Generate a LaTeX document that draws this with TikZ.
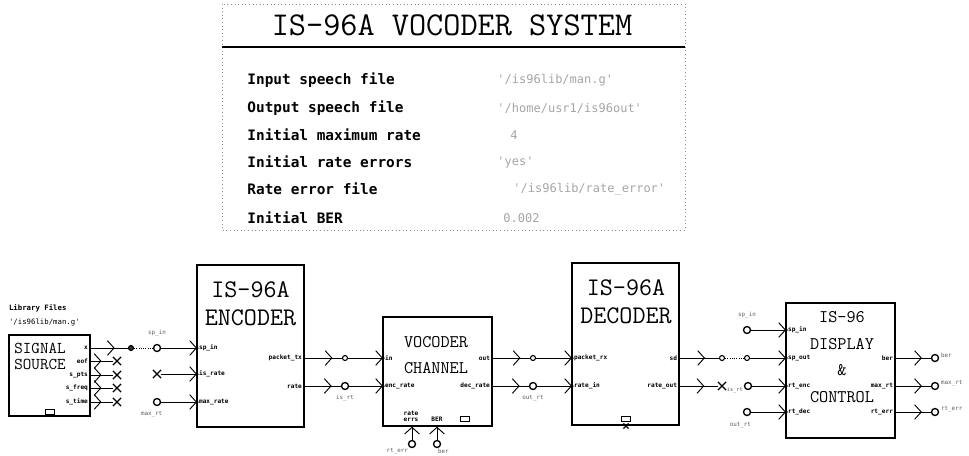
\documentclass[tikz,border=0pt]{standalone}
\usepackage{fontspec}
\newfontfamily\plotmono{DejaVu Sans Mono}
\usetikzlibrary{arrows.meta, positioning, decorations.markings, shapes.misc}
\newlength\px
\setlength\px{0.75pt}
\definecolor{valgray}{RGB}{165,165,165}
\definecolor{framegray}{RGB}{140,140,140}
\definecolor{labgray}{RGB}{90,90,90}

\begin{document}
\begin{tikzpicture}[x=0.75pt, y=-0.75pt, line width=0.7pt,
  block/.style={draw, line width=1pt, inner sep=0pt},
  blocktxt/.style={font=\ttfamily\fontsize{19}{21}\selectfont, align=center, inner sep=0pt},
  smalltxt/.style={font=\ttfamily\fontsize{13.3}{19.5}\selectfont, align=center, inner sep=0pt},
  parname/.style={font=\plotmono\bfseries\fontsize{10.8}{12}\selectfont, anchor=west, inner sep=0pt},
  parval/.style={font=\plotmono\fontsize{9}{10}\selectfont, text=valgray, anchor=west, inner sep=0pt},
  plab/.style={font=\plotmono\bfseries\fontsize{4.6}{5}\selectfont, inner sep=1.2pt},
  wlab/.style={font=\plotmono\fontsize{4.4}{5}\selectfont, text=labgray, inner sep=0.5pt},
  term/.style={circle, draw, line width=1pt, fill=white, inner sep=0pt, minimum size=7\px},
  sdot/.style={circle, draw, line width=0.8pt, fill=white, inner sep=0pt, minimum size=5\px},
  xterm/.style={cross out, draw, line width=0.9pt, inner sep=0pt, minimum size=7\px},
  pdot/.style={circle, fill, inner sep=0pt, minimum size=3.5\px},
  sym/.style={draw, line width=0.8pt, minimum width=9\px, minimum height=5\px, inner sep=0pt},
  wire/.style={draw},
  link/.style={densely dotted},
  tochev/.style={-{Straight Barb[length=5pt, width=11pt]}},
  chev/.style={postaction={decorate}, decoration={markings, mark=at position #1 with {\arrow{Straight Barb[length=5pt, width=11pt]}}}},
  chev/.default=0.75
]
\useasboundingbox (0,0) rectangle (969,455);

% Parameter panel
\draw[framegray, dotted] (222,4) rectangle (685,230);
\node[font=\ttfamily\fontsize{25}{28}\selectfont, inner sep=0pt] (title) at (452,25) {IS-96A VOCODER SYSTEM};
\draw[line width=1.5pt] (222,47) -- (685,47);

\node[parname] (n-inspeech) at (247,80) {Input speech file};
\node[parname] (n-outspeech) at (247,108) {Output speech file};
\node[parname] (n-maxrate) at (247,135) {Initial maximum rate};
\node[parname] (n-rateerr) at (247,162) {Initial rate errors};
\node[parname] (n-errfile) at (247,189) {Rate error file};
\node[parname] (n-ber) at (247,218) {Initial BER};

\node[parval] (v-inspeech) at (497,80) {'/is96lib/man.g'};
\node[parval] (v-outspeech) at (497,108) {'/home/usr1/is96out'};
\node[parval] (v-maxrate) at (510,135) {4};
\node[parval] (v-rateerr) at (497,162) {'yes'};
\node[parval] (v-errfile) at (513,189) {'/is96lib/rate\_error'};
\node[parval] (v-ber) at (503,218) {0.002};

% Blocks
\node[block, minimum width=81\px, minimum height=81\px] (src) at (49.5,375.5) {};
\node[block, minimum width=107\px, minimum height=162\px] (enc) at (250.5,346) {};
\node[block, minimum width=109\px, minimum height=109\px] (chan) at (437.5,371.5) {};
\node[block, minimum width=107\px, minimum height=162\px] (dec) at (625.5,344) {};
\node[block, minimum width=109\px, minimum height=135\px] (disp) at (840.5,370.5) {};

\node[blocktxt, font=\ttfamily\fontsize{12.4}{12}\selectfont, align=left, anchor=west] (srctxt) at (14,356) {SIGNAL\\SOURCE};
\node[blocktxt] (enctxt) at (250.5,304) {IS-96A\\ENCODER};
\node[smalltxt] (chantxt) at (436,355) {VOCODER\\CHANNEL};
\node[blocktxt] (dectxt) at (626,302) {IS-96A\\DECODER};
\node[smalltxt, font=\ttfamily\fontsize{13.3}{20}\selectfont] (disptxt) at (842,357) {IS-96\\DISPLAY\\\&\\CONTROL};

\node[plab, font=\plotmono\bfseries\fontsize{5.5}{6}\selectfont, anchor=west] (lib) at (7,308) {Library Files};
\node[plab, font=\plotmono\fontsize{5.5}{6}\selectfont, anchor=west] (libval) at (7,322) {'/is96lib/man.g'};

% Ports
\node[plab, anchor=east] (src-x) at (90,348) {x};
\node[plab, anchor=east] (src-eof) at (90,361) {eof};
\node[plab, anchor=east] (src-pts) at (90,375) {s\_pts};
\node[plab, anchor=east] (src-freq) at (90,388) {s\_freq};
\node[plab, anchor=east] (src-time) at (90,402) {s\_time};
\node[sym] (src-sym) at (50,412) {};

\node[plab, anchor=west] (enc-spin) at (197,348) {sp\_in};
\node[plab, anchor=west] (enc-isr) at (197,374) {is\_rate};
\node[plab, anchor=west] (enc-maxr) at (197,402) {max\_rate};
\node[plab, anchor=east] (enc-pkt) at (304,358) {packet\_tx};
\node[plab, anchor=east] (enc-rate) at (304,386) {rate};

\node[plab, anchor=west] (chan-in) at (383,358) {in};
\node[plab, anchor=west] (chan-encr) at (383,386) {enc\_rate};
\node[plab, anchor=east] (chan-out) at (492,358) {out};
\node[plab, anchor=east] (chan-decr) at (492,386) {dec\_rate};
\node[plab, align=center, anchor=south] (chan-rerr) at (411,424) {rate\\errs};
\node[plab, anchor=south] (chan-ber) at (437,424) {BER};
\node[sym] (chan-sym) at (465,419) {};

\node[plab, anchor=west] (dec-pkt) at (572,358) {packet\_rx};
\node[plab, anchor=west] (dec-rin) at (572,386) {rate\_in};
\node[plab, anchor=east] (dec-sd) at (679,358) {sd};
\node[plab, anchor=east] (dec-rout) at (679,386) {rate\_out};
\node[sym] (dec-sym) at (626,419) {};
\node[xterm, minimum size=4\px] (x-dsym) at (626,426) {};

\node[plab, anchor=west] (disp-spin) at (786,330) {sp\_in};
\node[plab, anchor=west] (disp-spout) at (786,358) {sp\_out};
\node[plab, anchor=west] (disp-rtenc) at (786,386) {rt\_enc};
\node[plab, anchor=west] (disp-rtdec) at (786,412) {rt\_dec};
\node[plab, anchor=east] (disp-ber) at (895,358) {ber};
\node[plab, anchor=east] (disp-maxrt) at (895,386) {max\_rt};
\node[plab, anchor=east] (disp-rterr) at (895,412) {rt\_err};

\foreach \p in {enc-spin, enc-isr, enc-maxr, chan-in, chan-encr, dec-pkt, dec-rin, disp-spin, disp-spout, disp-rtenc, disp-rtdec}
  \node[pdot] (dot-\p) at (\p.west) {};

% Terminals
\node[sdot, fill=black!80] (t-x) at (131,348) {};
\node[xterm] (x-eof) at (117,361) {};
\node[xterm] (x-pts) at (117,375) {};
\node[xterm] (x-freq) at (117,388) {};
\node[xterm] (x-time) at (117,402) {};

\node[term] (t-spin) at (157,348) {};
\node[xterm] (x-isr) at (157,374) {};
\node[term] (t-maxr) at (157,402) {};
\node[wlab, above=5pt of t-spin] (l-spin) {sp\_in};
\node[wlab, below=3pt of t-maxr, xshift=-4pt] (l-maxr) {max\_rt};

\node[sdot] (t-pkt) at (345,358) {};
\node[term] (t-isrt) at (345,386) {};
\node[wlab, below=3pt of t-isrt] (l-isrt) {is\_rt};

\node[term] (t-rerr) at (412,444) {};
\node[term] (t-cber) at (437,444) {};
\node[wlab, anchor=north east] (l-rerr) at (t-rerr.south west) {rt\_err};
\node[wlab, anchor=north west] (l-cber) at (t-cber.south) {ber};

\node[sdot] (t-chout) at (533,358) {};
\node[term] (t-outrt) at (533,386) {};
\node[wlab, below=3pt of t-outrt] (l-outrt) {out\_rt};

\node[sdot] (t-sd) at (722,358) {};
\node[xterm] (x-rout) at (722,386) {};

\node[term] (t-dspin) at (747,330) {};
\node[sdot] (t-spout) at (747,358) {};
\node[term] (t-disrt) at (748,386) {};
\node[term] (t-doutrt) at (747,412) {};
\node[wlab, above=5pt of t-dspin] (l-dspin) {sp\_in};
\node[wlab, font=\plotmono\fontsize{4}{5}\selectfont, anchor=east] (l-disrt) at (744,390) {is\_rt};
\node[wlab, below=4pt of t-doutrt, xshift=-5pt] (l-doutrt) {out\_rt};

\node[term] (t-ber) at (935,358) {};
\node[term] (t-maxrt) at (935,386) {};
\node[term] (t-rterr) at (935,412) {};
\node[wlab, anchor=west] (l-ber) at (940,355) {ber};
\node[wlab, anchor=west] (l-maxrt) at (940,383) {max\_rt};
\node[wlab, anchor=west] (l-rterr) at (940,409) {rt\_err};

% Wires
\draw[wire, chev=0.65] (src-x.east) -- (t-x);
\draw[wire, chev=0.5] (src-eof.east) -- (x-eof);
\draw[wire, chev=0.5] (src-pts.east) -- (x-pts);
\draw[wire, chev=0.5] (src-freq.east) -- (x-freq);
\draw[wire, chev=0.5] (src-time.east) -- (x-time);
\draw[link] (t-x) -- (t-spin);

\draw[wire, tochev] (t-spin) -- (enc-spin.west);
\draw[wire, tochev] (x-isr) -- (enc-isr.west);
\draw[wire, tochev] (t-maxr) -- (enc-maxr.west);

\draw[wire, chev] (enc-pkt.east) -- (t-pkt);
\draw[wire, tochev] (t-pkt) -- (chan-in.west);
\draw[wire, chev] (enc-rate.east) -- (t-isrt);
\draw[wire, tochev] (t-isrt) -- (chan-encr.west);

\draw[wire, tochev] (t-rerr) -- (t-rerr |- chan.south);
\draw[wire, tochev] (t-cber) -- (t-cber |- chan.south);

\draw[wire, chev] (chan-out.east) -- (t-chout);
\draw[wire, tochev] (t-chout) -- (dec-pkt.west);
\draw[wire, chev] (chan-decr.east) -- (t-outrt);
\draw[wire, tochev] (t-outrt) -- (dec-rin.west);

\draw[wire, chev=0.65] (dec-sd.east) -- (t-sd);
\draw[wire, chev=0.65] (dec-rout.east) -- (x-rout);
\draw[link] (t-sd) -- (t-spout);

\draw[wire, tochev] (t-dspin) -- (disp-spin.west);
\draw[wire, tochev] (t-spout) -- (disp-spout.west);
\draw[wire, tochev] (t-disrt) -- (disp-rtenc.west);
\draw[wire, tochev] (t-doutrt) -- (disp-rtdec.west);

\draw[wire, chev] (disp-ber.east) -- (t-ber);
\draw[wire, chev] (disp-maxrt.east) -- (t-maxrt);
\draw[wire, chev] (disp-rterr.east) -- (t-rterr);

\end{tikzpicture}
\end{document}
